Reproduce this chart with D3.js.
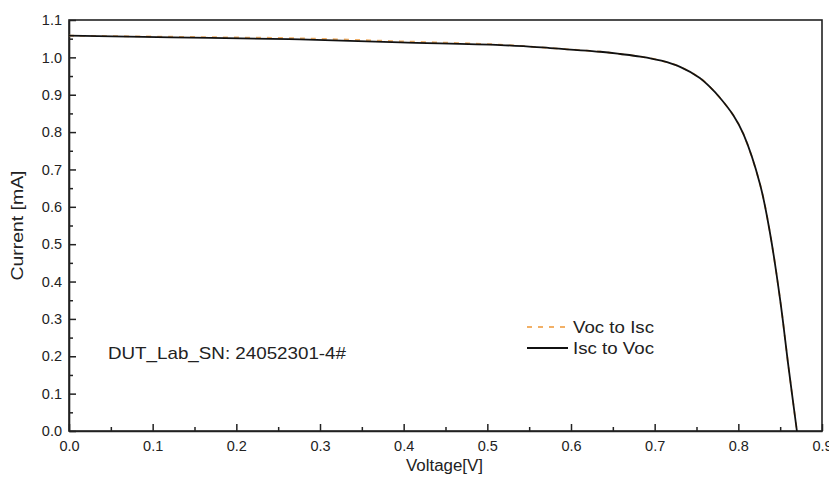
<!DOCTYPE html>
<html>
<head>
<meta charset="UTF-8" />
<title>IV curve</title>
<style>
    body { margin: 0; padding: 0; background: #fff; }
    text { font-family: "Liberation Sans", Arial, sans-serif; fill: #222; }
    .frame { fill: none; stroke: #222; stroke-width: 1.6px; }
    .curve { fill: none; }
</style>
</head>
<body>
<svg width="829" height="483"></svg>
<script src="https://d3js.org/d3.v7.min.js"></script>
<script>
    // values
    const voltage = [0, 0.089, 0.169, 0.276, 0.396, 0.516, 0.575, 0.635, 0.659, 0.683, 0.708, 0.731,
        0.754, 0.766, 0.778, 0.794, 0.806, 0.826, 0.838, 0.850, 0.860, 0.870];
    const iscToVoc = [1.058, 1.055, 1.052, 1.048, 1.040, 1.033, 1.025, 1.015, 1.009, 1.002, 0.991, 0.974,
        0.945, 0.921, 0.892, 0.845, 0.795, 0.660, 0.528, 0.351, 0.171, 0.0];
    const vocToIsc = [1.058, 1.056, 1.054, 1.051, 1.043, 1.034, 1.025, 1.015, 1.009, 1.002, 0.991, 0.974,
        0.945, 0.921, 0.892, 0.845, 0.795, 0.660, 0.528, 0.351, 0.171, 0.0];
    const xTicks = [0, 0.1, 0.2, 0.3, 0.4, 0.5, 0.6, 0.7, 0.8, 0.9];
    const yTicks = [0, 0.1, 0.2, 0.3, 0.4, 0.5, 0.6, 0.7, 0.8, 0.9, 1.0, 1.1];
    const seriesNames = ["Voc to Isc", "Isc to Voc"];
    const seriesColors = ["#f2b066", "#111"];
    const snLabel = "DUT_Lab_SN: 24052301-4#";

    const svg = d3.select("svg"),
        width = 829,
        height = 483,
        margin = { top: 20, right: 7, bottom: 52, left: 69 }

    const x = d3.scaleLinear().domain([0, 0.9]).range([margin.left, width - margin.right])
    const y = d3.scaleLinear().domain([0, 1.1]).range([height - margin.bottom, margin.top])

    const fmt = d3.format(".1f")
    const xMinor = d3.range(0.05, 0.9, 0.1)
    const yMinor = d3.range(0.05, 1.1, 0.1)

    // x axis, ticks pointing inwards
    const gx = svg.append("g").attr("transform", `translate(0,${y(0)})`)
    gx.call(d3.axisBottom(x).tickValues(xTicks).tickFormat(fmt).tickSizeInner(-7).tickSizeOuter(0).tickPadding(10))
    gx.append("g").call(d3.axisBottom(x).tickValues(xMinor).tickFormat("").tickSizeInner(-4).tickSizeOuter(0))
        .select(".domain").remove()

    // y axis
    const gy = svg.append("g").attr("transform", `translate(${x(0)},0)`)
    gy.call(d3.axisLeft(y).tickValues(yTicks).tickFormat(fmt).tickSizeInner(-7).tickSizeOuter(0).tickPadding(7))
    gy.append("g").call(d3.axisLeft(y).tickValues(yMinor).tickFormat("").tickSizeInner(-4).tickSizeOuter(0))
        .select(".domain").remove()

    svg.selectAll(".tick line").attr("stroke", "#222").attr("stroke-width", 1.5)
    svg.selectAll(".domain").attr("stroke", "#222").attr("stroke-width", 1.6)
    svg.selectAll(".tick text").style("font-family", '"Liberation Sans", Arial, sans-serif')
        .style("font-size", "14.5px").attr("fill", "#222")

    // box round the plot
    svg.append("rect").attr("class", "frame")
        .attr("x", x(0)).attr("y", y(1.1))
        .attr("width", x(0.9) - x(0)).attr("height", y(0) - y(1.1))

    const line = d3.line().curve(d3.curveCatmullRom.alpha(0.5))

    // Voc to Isc (dashed, under)
    svg.append("path").attr("class", "curve")
        .attr("d", line(voltage.map((v, i) => [x(v), y(vocToIsc[i])])))
        .attr("stroke", seriesColors[0]).attr("stroke-width", 1.8).attr("stroke-dasharray", "5,6")

    // Isc to Voc (solid, over)
    svg.append("path").attr("class", "curve")
        .attr("d", line(voltage.map((v, i) => [x(v), y(iscToVoc[i])])))
        .attr("stroke", seriesColors[1]).attr("stroke-width", 1.8)

    // axis titles
    svg.append("text").attr("x", (x(0) + x(0.9)) / 2 - 1).attr("y", 471)
        .attr("text-anchor", "middle").style("font-size", "16px")
        .attr("textLength", 77).attr("lengthAdjust", "spacingAndGlyphs").text("Voltage[V]")
    svg.append("text").attr("transform", `translate(23,${(y(0) + y(1.1)) / 2}) rotate(-90)`)
        .attr("text-anchor", "middle").style("font-size", "16px")
        .attr("textLength", 110).attr("lengthAdjust", "spacingAndGlyphs").text("Current [mA]")

    // sample label
    svg.append("text").attr("x", 108).attr("y", 359).style("font-size", "17px")
        .attr("textLength", 238).attr("lengthAdjust", "spacingAndGlyphs").text(snLabel)

    // legend
    const legend = svg.append("g").attr("transform", "translate(527,327)")
    const legendWidths = [81, 81]
    seriesNames.forEach((name, i) => {
        const row = legend.append("g").attr("transform", `translate(0,${i * 21})`)
        row.append("line").attr("x1", 0).attr("x2", 41).attr("y1", 0).attr("y2", 0)
            .attr("stroke", seriesColors[i]).attr("stroke-width", 1.8)
            .attr("stroke-dasharray", i === 0 ? "5,6" : null)
        row.append("text").attr("x", 46).attr("y", 6).style("font-size", "17px")
            .attr("textLength", legendWidths[i]).attr("lengthAdjust", "spacingAndGlyphs").text(name)
    })
</script>
</body>
</html>
